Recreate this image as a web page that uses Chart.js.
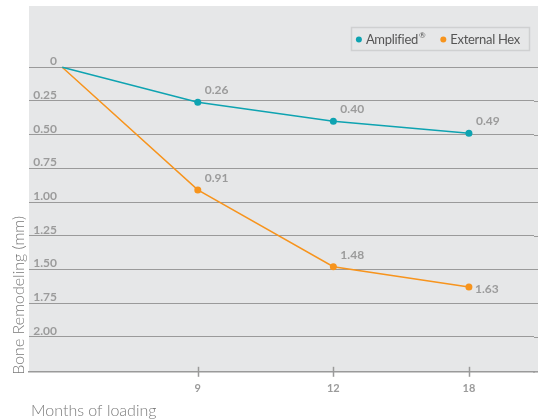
<!DOCTYPE html>
<html>
<head>
<meta charset="utf-8">
<script src="https://cdn.jsdelivr.net/npm/chart.js@4.4.1/dist/chart.umd.min.js"></script>
<style>
  html, body { margin: 0; padding: 0; background: #ffffff; }
  #wrap { position: relative; width: 538px; height: 420px; }
</style>
</head>
<body>
<div id="wrap"><canvas id="chart" width="538" height="420"></canvas></div>
<script>
// Loading periods (months); the first entry is the baseline at placement
const categories = ['0', '9', '12', '18'];
// Mean bone remodeling (mm) per implant type
const amplified = [0, 0.26, 0.40, 0.49];
const externalHex = [0, 0.91, 1.48, 1.63];
// Depth ticks on the vertical axis
const yTickValues = [0, 0.25, 0.5, 0.75, 1.0, 1.25, 1.5, 1.75, 2.0];
const yTickLabels = ['0', '0.25', '0.50', '0.75', '1.00', '1.25', '1.50', '1.75', '2.00'];
const xAxisTitle = 'Months of loading';
const yAxisTitle = 'Bone Remodeling (mm)';

const FONT = 'Lato, "Open Sans", sans-serif';
const TEAL = '#0ea3b1';
const ORANGE = '#f7941d';
const LABEL_GREY = '#9b9b9b';
const GRID_GREY = '#9a9a9a';
const TITLE_GREY = '#7a7a7a';

const toPoints = arr => arr.map((v, i) => ({ x: i, y: v }));

// Grey plot panel, axis titles, labels on the y grid, x tick marks, point values and legend box
const decorations = {
  id: 'decorations',
  beforeDraw(chart) {
    const { ctx, chartArea: a } = chart;
    ctx.save();
    ctx.fillStyle = '#e6e7e8';
    ctx.fillRect(a.left, a.top, chart.width - a.left, a.bottom - a.top);
    ctx.restore();
  },
  afterDatasetsDraw(chart) {
    const { ctx, chartArea: a, scales } = chart;
    const xs = scales.x, ys = scales.y;
    const right = chart.width;
    ctx.save();

    // axis titles
    ctx.fillStyle = TITLE_GREY;
    ctx.font = '300 16px ' + FONT;
    ctx.textAlign = 'left';
    ctx.textBaseline = 'alphabetic';
    ctx.fillText(xAxisTitle, a.left + 2, 416);
    ctx.save();
    ctx.translate(24, a.bottom + 3);
    ctx.rotate(-Math.PI / 2);
    ctx.fillText(yAxisTitle, 0, 0);
    ctx.restore();

    // y grid lines run to the right edge of the panel
    ctx.strokeStyle = GRID_GREY;
    ctx.lineWidth = 1;
    yTickValues.forEach((v) => {
      const py = Math.round(ys.getPixelForValue(v)) + 0.5;
      ctx.beginPath();
      ctx.moveTo(a.right, py);
      ctx.lineTo(right, py);
      ctx.stroke();
    });
    ctx.lineWidth = 1.5;
    ctx.beginPath();
    ctx.moveTo(a.right - 1, a.bottom);
    ctx.lineTo(right, a.bottom);
    ctx.stroke();

    // y tick labels, sitting just above their grid lines
    ctx.font = 'bold 12px ' + FONT;
    ctx.fillStyle = LABEL_GREY;
    ctx.textAlign = 'right';
    ctx.textBaseline = 'alphabetic';
    yTickValues.forEach((v, i) => {
      ctx.fillText(yTickLabels[i], a.left + 28, ys.getPixelForValue(v) - 2);
    });

    // tick marks crossing the x axis
    ctx.strokeStyle = GRID_GREY;
    ctx.lineWidth = 1.5;
    for (let i = 1; i < categories.length; i++) {
      const px = Math.round(xs.getPixelForValue(i)) + 0.5;
      ctx.beginPath();
      ctx.moveTo(px, a.bottom - 5);
      ctx.lineTo(px, a.bottom + 5);
      ctx.stroke();
    }

    // point values
    ctx.font = 'bold 12px ' + FONT;
    ctx.fillStyle = LABEL_GREY;
    ctx.textAlign = 'left';
    chart.data.datasets.forEach((ds, di) => {
      const meta = chart.getDatasetMeta(di);
      const place = ds.labelPlacement || [];
      ds.data.forEach((pt, i) => {
        if (i === 0) return;
        const el = meta.data[i];
        const txt = pt.y.toFixed(2);
        if (place[i] === 'right') {
          ctx.textBaseline = 'middle';
          ctx.fillText(txt, el.x + 6, el.y + 2);
        } else {
          ctx.textBaseline = 'alphabetic';
          ctx.fillText(txt, el.x + 7, el.y - 8);
        }
      });
    });

    // legend box in the top right corner of the panel
    const legendFont = '13px ' + FONT;
    const supFont = '8px ' + FONT;
    ctx.letterSpacing = '-0.3px';
    const items = chart.data.datasets.map(ds => {
      const parts = ds.label.split('®');
      ctx.font = legendFont;
      let w = ctx.measureText(parts[0]).width;
      if (parts.length > 1) { ctx.font = supFont; w += ctx.measureText('®').width + 1; }
      return { ds, parts, w };
    });
    const padL = 8, dotGap = 7, itemGap = 18, padR = 9;
    let boxW = padL + padR;
    items.forEach((it, k) => { boxW += dotGap + it.w + (k ? itemGap : 0); });
    const boxH = 23;
    const bx = right - 9 - boxW, by = a.top + 21;
    ctx.strokeStyle = '#cfd0d1';
    ctx.lineWidth = 1.5;
    ctx.strokeRect(Math.round(bx) + 0.5, by + 0.5, Math.round(boxW), boxH);
    let cx = bx + padL;
    const cy = by + boxH / 2 + 1;
    items.forEach((it) => {
      ctx.fillStyle = it.ds.borderColor;
      ctx.beginPath();
      ctx.arc(cx, cy, 3, 0, Math.PI * 2);
      ctx.fill();
      ctx.fillStyle = '#555555';
      ctx.font = legendFont;
      ctx.textAlign = 'left';
      ctx.textBaseline = 'middle';
      let tx = cx + dotGap;
      ctx.fillText(it.parts[0], tx, cy);
      tx += ctx.measureText(it.parts[0]).width;
      if (it.parts.length > 1) {
        ctx.font = supFont;
        ctx.fillText('®', tx + 1, cy - 4);
        tx += ctx.measureText('®').width + 1;
      }
      cx = tx + itemGap;
    });
    ctx.restore();
  }
};

new Chart(document.getElementById('chart'), {
  type: 'line',
  data: {
    datasets: [
      {
        label: 'Amplified®',
        data: toPoints(amplified),
        borderColor: TEAL,
        backgroundColor: TEAL,
        borderWidth: 1.5,
        pointRadius: [0, 3.5, 3.5, 3.5],
        pointBorderWidth: 0,
        tension: 0,
        labelPlacement: ['above', 'above', 'above', 'above']
      },
      {
        label: 'External Hex',
        data: toPoints(externalHex),
        borderColor: ORANGE,
        backgroundColor: ORANGE,
        borderWidth: 1.5,
        pointRadius: [0, 3.5, 3.5, 3.5],
        pointBorderWidth: 0,
        tension: 0,
        labelPlacement: ['above', 'above', 'above', 'right']
      }
    ]
  },
  options: {
    responsive: false,
    animation: false,
    devicePixelRatio: 1,
    layout: { padding: { top: 6, right: 0, bottom: 15, left: 29 } },
    plugins: {
      legend: { display: false },
      tooltip: { enabled: false }
    },
    scales: {
      x: {
        type: 'linear',
        min: -0.245,
        max: 3.48,
        afterBuildTicks(scale) {
          scale.ticks = categories.slice(1).map((c, i) => ({ value: i + 1 }));
        },
        ticks: {
          callback: (v) => categories[v],
          font: { family: FONT, size: 11, weight: 'bold' },
          color: LABEL_GREY,
          padding: 10,
          maxRotation: 0
        },
        grid: { display: false, drawTicks: false },
        border: { display: true, color: GRID_GREY, width: 1.5 }
      },
      y: {
        type: 'linear',
        reverse: true,
        min: -0.455,
        max: 2.26,
        afterBuildTicks(scale) {
          scale.ticks = yTickValues.map(v => ({ value: v }));
        },
        ticks: { display: false },
        grid: { color: GRID_GREY, lineWidth: 1, drawTicks: false },
        border: { display: false }
      }
    }
  },
  plugins: [decorations]
});
</script>
</body>
</html>
